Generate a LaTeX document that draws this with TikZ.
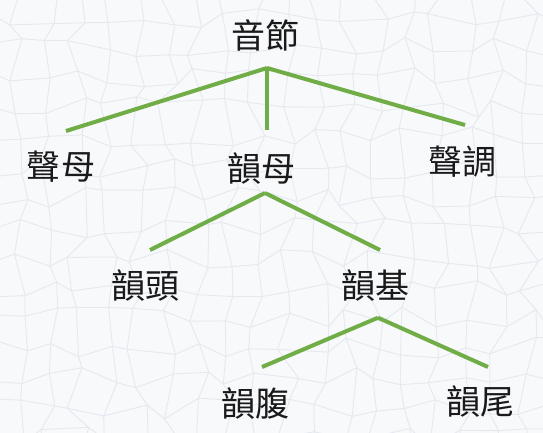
\documentclass[tikz,border=0pt]{standalone}
\usepackage{fontspec}
\newfontfamily\cjk{Noto Sans CJK TC}
\usetikzlibrary{calc}
\definecolor{bgc}{HTML}{F8F9FB}
\definecolor{crackc}{HTML}{E6EAF0}
\definecolor{branch}{HTML}{70AD47}
\definecolor{ink}{HTML}{1A1A1A}
\tikzset{
  lbl/.style={inner sep=0pt, font=\cjk\fontsize{34}{36}\selectfont, text=ink,
    text height=29pt, text depth=4pt},
  edge/.style={draw=branch, line width=4pt},
  crack/.style={draw=crackc, line width=1pt}
}
\begin{document}
\begin{tikzpicture}[x=1pt,y=-1pt]
\useasboundingbox (0,0) rectangle (543,433);
\fill[bgc] (0,0) rectangle (543,433);
\begin{scope}
\clip (0,0) rectangle (543,433);
\pgfmathsetseed{11}
\foreach \i in {0,...,19}{\foreach \j in {0,...,16}{
  \pgfmathsetmacro\dx{rand*11}\pgfmathsetmacro\dy{rand*11}
  \coordinate (g-\i-\j) at (\i*30-12+\dx, \j*30-12+\dy);}}
\foreach \i [count=\ii from 1] in {0,...,18}{\foreach \j in {0,...,16}{
  \draw[crack] (g-\i-\j) -- (g-\ii-\j);}}
\foreach \j [count=\jj from 1] in {0,...,15}{\foreach \i in {0,...,19}{
  \draw[crack] (g-\i-\j) -- (g-\i-\jj);}}
\end{scope}

\node[lbl] (yinjie) at (265.5,36.5) {音節};
\node[lbl] (shengmu) at (61,167) {聲母};
\node[lbl] (yunmu) at (261.5,168.5) {韻母};
\node[lbl] (shengdiao) at (462,161.5) {聲調};
\node[lbl] (yuntou) at (145.5,286) {韻頭};
\node[lbl] (yunji) at (375.5,286) {韻基};
\node[lbl] (yunfu) at (255.5,403.5) {韻腹};
\node[lbl] (yunwei) at (480,402) {韻尾};

\coordinate (apexA) at ($(yinjie.center)+(1.5,31.5)$);
\coordinate (apexB) at ($(yunmu.center)+(3.5,24.5)$);
\coordinate (apexC) at ($(yunji.center)+(2.5,31.7)$);

\draw[edge] (apexA) -- ($(shengmu.center)+(5,-36)$);
\draw[edge] (apexA) -- ($(yunmu.center)+(5.5,-38.5)$);
\draw[edge] (apexA) -- ($(shengdiao.center)+(3,-36.5)$);
\draw[edge] (apexB) -- ($(yuntou.center)+(4.5,-36)$);
\draw[edge] (apexB) -- ($(yunji.center)+(4.5,-36)$);
\draw[edge] (apexC) -- ($(yunfu.center)+(6.5,-36.5)$);
\draw[edge] (apexC) -- ($(yunwei.center)+(8,-35)$);
\end{tikzpicture}
\end{document}
